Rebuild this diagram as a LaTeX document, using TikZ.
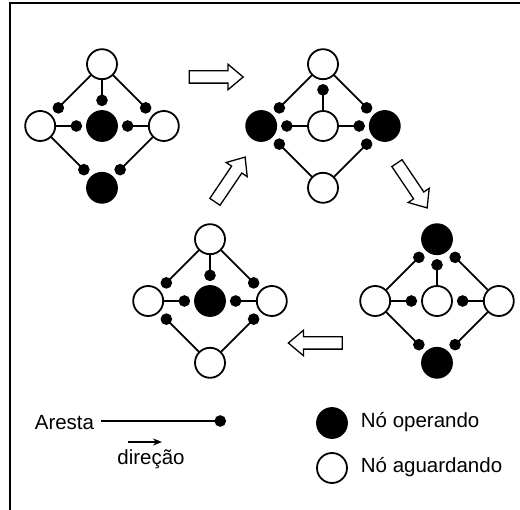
\documentclass[tikz,border=0pt]{standalone}
\usepackage{fontspec}
\setmainfont{Liberation Sans}
\usepackage{tikz}
\usetikzlibrary{positioning,arrows.meta,shapes.arrows}

\begin{document}
\begin{tikzpicture}[x=1pt,y=-1pt,->,>={Circle[length=11.5pt]},shorten >=4pt,line width=1.8pt,
      node distance=30pt,font=\fontsize{20.5}{24}\selectfont,
      op node/.style={circle,draw,fill=black,minimum size=30pt,inner sep=0pt},
      wait node/.style={circle,draw,fill=white,minimum size=30pt,inner sep=0pt},
      flow arrow/.style={single arrow,draw,line width=1.3pt,inner xsep=0pt,inner ysep=5.5pt,
        minimum height=54pt,single arrow head extend=6.5pt,single arrow tip angle=80}]
      \useasboundingbox (0,0) rectangle (520,510);
      \draw[-,shorten >=0pt,line width=2pt] (9.5,510) -- (9.5,3.5) -- (520,3.5);

      % primeiro passo
      \node[op node] (c1) at (102,126) {};
      \node[wait node] (t1) [above=of c1] {};
      \node[wait node] (l1) [left=of c1] {};
      \node[wait node] (r1) [right=of c1] {};
      \node[op node] (b1) [below=of c1] {};

      \path
        (t1) edge (l1)
        (t1) edge (c1)
        (t1) edge (r1)
        (l1) edge (c1)
        (r1) edge (c1)
        (l1) edge (b1)
        (r1) edge (b1);

      % segundo passo
      \node[wait node] (c2) at (323,126) {};
      \node[wait node] (t2) [above=of c2] {};
      \node[op node] (l2) [left=of c2] {};
      \node[op node] (r2) [right=of c2] {};
      \node[wait node] (b2) [below=of c2] {};

      \path
        (t2) edge (l2)
        (c2) edge (t2)
        (t2) edge (r2)
        (c2) edge (l2)
        (c2) edge (r2)
        (b2) edge (l2)
        (b2) edge (r2);

      % terceiro passo
      \node[wait node] (c3) at (437,301) {};
      \node[op node] (t3) [above=of c3] {};
      \node[wait node] (l3) [left=of c3] {};
      \node[wait node] (r3) [right=of c3] {};
      \node[op node] (b3) [below=of c3] {};

      \path
        (l3) edge (t3)
        (c3) edge (t3)
        (r3) edge (t3)
        (l3) edge (c3)
        (r3) edge (c3)
        (l3) edge (b3)
        (r3) edge (b3);

      % quarto passo
      \node[op node] (c4) at (210,301) {};
      \node[wait node] (t4) [above=of c4] {};
      \node[wait node] (l4) [left=of c4] {};
      \node[wait node] (r4) [right=of c4] {};
      \node[wait node] (b4) [below=of c4] {};

      \path
        (t4) edge (l4)
        (t4) edge (c4)
        (t4) edge (r4)
        (l4) edge (c4)
        (r4) edge (c4)
        (b4) edge (l4)
        (b4) edge (r4);

      % setas entre os passos
      \node[flow arrow] (f1) at (212.5,77) {};
      \node[flow arrow,rotate=56] (f2) at (228,182.5) {};
      \node[flow arrow,rotate=-56] (f3) at (410,182.5) {};
      \node[flow arrow,rotate=180] (f4) at (319,343) {};

      % legenda
      \node[anchor=base east,inner sep=0pt] (aresta) at (95,430) {Aresta};
      \coordinate (fim) at (226,421);
      \draw[shorten >=0pt] ([xshift=6pt]aresta.east |- fim) -- (fim);
      \node[anchor=base,inner sep=0pt] (dir) at (151,465) {direção};
      \coordinate (d1) at (128,442);
      \coordinate (d2) at (162,442);
      \draw[-{Stealth[length=9pt,width=7pt]},shorten >=0pt,line width=1.6pt] (d1) -- (d2);

      \node[op node] (legop) at (332,423) {};
      \node[anchor=base west,inner sep=0pt] (txtop) at (360,428) {Nó operando};
      \node[wait node] (legwait) at (332,468) {};
      \node[anchor=base west,inner sep=0pt] (txtwait) at (360,473) {Nó aguardando};
\end{tikzpicture}
\end{document}
